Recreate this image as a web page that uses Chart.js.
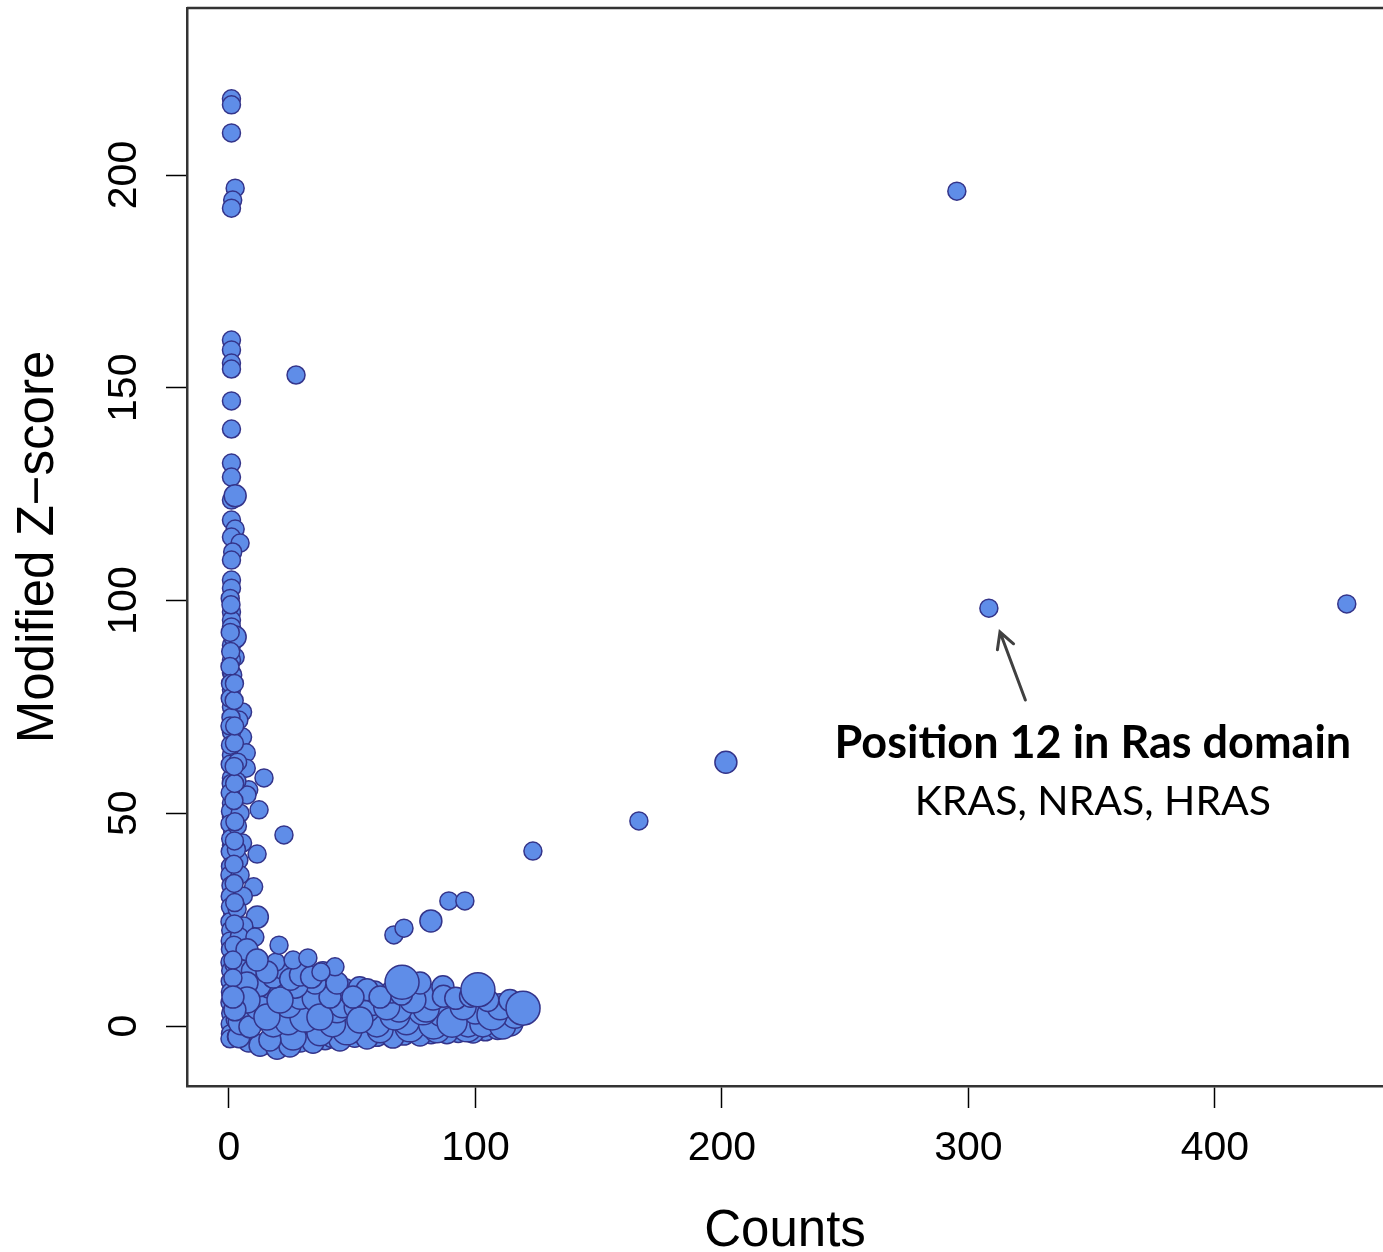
<!DOCTYPE html>
<html>
<head>
<meta charset="utf-8">
<script src="https://cdn.jsdelivr.net/npm/chart.js@4.4.1/dist/chart.umd.min.js"></script>
<style>
  html, body { margin: 0; padding: 0; background: #fff; }
</style>
</head>
<body>
<canvas id="zscoreChart" width="1383" height="1252"></canvas>
<script>
// values: counts (x), modified z-score (y), bubble size class (1 = smallest)
const counts = [
  1, 1, 1, 2.5, 1.5, 1,
  1, 1, 1, 1, 1, 1, 1, 1, 1, 2.5,
  1, 2.5, 1, 4.5, 1.5, 1, 1, 1,
  1, 1, 1, 1, 2.5, 2.5, 1, 1,
  1.5, 1, 1, 5.5, 4, 5.5, 1, 1, 7, 7,
  8, 1, 7.3, 1, 1, 1.5, 1, 4, 2, 1.5,
  10, 1.5, 2, 1.5, 11.5,
  0.5, 0.8, 0.5, 0.7, 0.4, 0.6, 0.5, 0.8, 0.4, 0.6,
  0.5, 0.9, 0.5, 0.6, 0.4, 0.7, 0.5, 0.6, 0.4, 0.8,
  0.5, 0.6, 0.4, 0.7, 0.5, 0.6, 0.4, 0.7, 0.5, 0.6,
  0.4, 0.7, 0.5, 0.6, 0.4, 3.5, 3.2, 4.5, 3.4, 5.5,
  3, 4.5, 5.8, 3.3, 6, 4.2, 3.1, 5, 3.6, 2.5,
  3, 2, 2, 2.2, 2.3, 2.1, 2, 2.2, 2.4, 2,
  2.3, 2.1, 2.2, 2.3, 2.1, 2.2,
  8, 22, 29, 39, 42, 51, 60, 71, 82, 93,
  104, 109, 12.6, 19.5, 24.7, 34.1, 45, 56, 66.5, 77.5,
  88.4, 99,
  47.9, 61.3, 73.4, 84.4, 96.6, 114, 36.9, 26, 16.6, 4,
  5, 18, 24, 42, 60, 72, 83, 97, 103, 111,
  86, 100, 116, 30.8, 43.8, 55.2, 67.3, 78.7, 90.5, 106.7,
  8.5, 12, 24, 29, 35, 46, 52, 58, 69, 80,
  64, 82.8, 95, 110, 74.6, 77.5, 86.8, 36.9, 15.4, 53.1,
  47, 53, 66, 70, 59, 87, 92, 105, 98, 114,
  38.1, 41, 34.9, 43.8, 56, 50.3, 61.3, 26.8, 16.6, 20.7,
  4.5, 9.5, 12.5, 18, 22, 25, 29, 19, 26, 33.5,
  10.5, 15.4, 7.3, 7.3, 11.4, 7.3, 2.4, 1.6, 1.6, 1.6,
  70.2, 101, 119.3,
  14.2, 12.2, 11.4, 22.3, 27.2, 20.3, 32.0, 43.0, 37.3, 66.9,
  71.0, 81.9, 89.2, 95.7, 123.3, 166.3, 201.6, 295.3, 308.3, 453.5
];
const zscores = [
  217.9, 216.5, 209.9, 196.9, 194.1, 192.2,
  161.2, 158.9, 155.8, 154.4, 146.9, 140.3, 132.3, 129.0, 123.6, 124.6,
  118.9, 116.8, 114.9, 113.5, 111.4, 109.5, 104.8, 102.9,
  97.3, 95.4, 93.8, 89.5, 91.4, 86.7, 83.0, 86.0,
  82.5, 79.0, 75.0, 73.8, 71.9, 67.9, 69.1, 63.7, 64.2, 60.6,
  55.5, 58.3, 54.3, 52.4, 49.1, 45.6, 42.5, 39.0, 36.7, 34.3,
  32.7, 31.5, 29.6, 26.6, 25.6,
  100.5, 99, 92.5, 88, 84.5, 80.5, 77, 72.5, 70.5, 66,
  61.5, 57, 54.8, 50.5, 47.5, 44, 41, 37.5, 35.5, 33,
  30.5, 28, 24.5, 22.5, 20, 18, 15, 13, 10.5, 8,
  5.5, 3, 0.5, -1.8, -3, 62, 57.5, 50, 47, 43,
  41.5, 35.5, 30.5, 27.5, 23.5, 21, 17, 12.5, 7.5, 1.5,
  -2.5, 14.5, 19, 24, 29, 33.5, 38, 43.5, 48, 53,
  57, 61, 66.5, 70.5, 76.5, 80.5,
  -3.5, -3.8, -3.5, -3, -2.5, -2.4, -2.2, -1.9, -1.6, -1.3,
  -0.9, -0.6, -4.5, -5.2, -4.7, -3.8, -3.3, -2.8, -2.6, -2.1,
  -1.6, -1.4,
  -0.9, -0.9, -0.2, -0.9, -0.2, 0.7, -1.6, -2.6, -3.3, -2.5,
  1, 0.5, 1, 0.5, 0.5, 1, 0.5, 0.5, 0.5, 0,
  3, 3.5, 2.5, 2.1, 3.8, 4.2, 2.6, 3.8, 0.9, 2.6,
  -0.2, 4.5, 5, 7, 6.5, 5, 4.5, 5.5, 4, 4,
  4.5, 6.8, 4.5, 4.5, 6.1, 10.1, 9.2, 2.1, 2.1, 1.4,
  8.5, 9, 8, 7.5, 8, 7, 6.5, 6, 7, 6,
  12.5, 6.8, 10.1, 10.1, 8.5, 6.8, 6.8, 9.6, 9.6, 6.1,
  13.5, 13, 9.5, 11.5, 13.5, 11, 12, 15, 15.5, 11.5,
  20.9, 12.7, 10.1, 17.9, 15.5, 6.1, 3.8, 15.5, 11.3, 6.8,
  10.3, 8.5, 4.2,
  58.3, 50.8, 40.4, 44.9, 153.0, 19.0, 16.0, 13.9, 12.7, 21.4,
  23.0, 24.7, 29.4, 29.4, 41.1, 48.2, 62.0, 196.2, 98.2, 99.2
];
const sizeClass = [
  1, 1, 1, 1, 1, 1,
  1, 1, 1, 1, 1, 1, 1, 1, 1, 2,
  1, 1, 1, 1, 1, 1, 1, 1,
  1, 1, 1, 1, 2, 1, 1, 1,
  1, 1, 1, 1, 1, 1, 1, 1, 1, 1,
  1, 1, 1, 1, 1, 1, 1, 1, 1, 1,
  1, 1, 1, 1, 2,
  1, 1, 1, 1, 1, 1, 1, 1, 1, 1,
  1, 1, 1, 1, 1, 1, 1, 1, 1, 1,
  1, 1, 1, 1, 1, 1, 1, 1, 1, 1,
  1, 1, 1, 1, 1, 1, 1, 1, 1, 1,
  1, 1, 1, 1, 1, 1, 1, 1, 1, 1,
  1, 1, 1, 1, 1, 1, 1, 1, 1, 1,
  1, 1, 1, 1, 1, 1,
  2, 2, 2, 2, 2, 2, 2, 2, 2, 2,
  2, 2, 2, 2, 2, 2, 2, 2, 2, 2,
  2, 2,
  4, 3, 4, 3, 4, 3, 3, 3, 2, 2,
  3, 3, 3, 3, 3, 3, 4, 3, 3, 3,
  3, 3, 3, 4, 3, 4, 4, 4, 4, 4,
  2, 3, 3, 3, 3, 3, 3, 3, 3, 3,
  3, 3, 3, 3, 3, 2, 2, 3, 3, 3,
  2, 2, 2, 2, 2, 2, 2, 2, 2, 2,
  2, 2, 2, 2, 2, 2, 2, 3, 3, 3,
  2, 2, 2, 2, 2, 2, 2, 1, 1, 2,
  1, 2, 2, 2, 2, 3, 2, 1, 1, 2,
  5, 5, 5,
  1, 1, 1, 1, 1, 1, 1, 1, 1, 1,
  1, 2, 1, 1, 1, 1, 2, 1, 1, 1
];

const xTicks = [0, 100, 200, 300, 400];
const yTicks = [0, 50, 100, 150, 200];

const note = {
  title: 'Position 12 in Ras domain',
  sub: 'KRAS, NRAS, HRAS',
  textAt: [350.5, 63.0],
  subAt: [350.5, 49.6],
  arrowFrom: [323.1, 76.6],
  arrowTo: [312.8, 92.6]
};

const points = counts.map((c, i) => ({ x: c, y: zscores[i], r: 7 + sizeClass[i] * 2 }));

const annotate = {
  id: 'annotate',
  afterDatasetsDraw(chart) {
    const { ctx, chartArea, scales: { x, y } } = chart;
    ctx.save();
    // top edge of the box
    ctx.strokeStyle = '#333';
    ctx.lineWidth = 2.5;
    ctx.beginPath();
    ctx.moveTo(chartArea.left, chartArea.top);
    ctx.lineTo(chartArea.right, chartArea.top);
    ctx.stroke();

    // arrow
    const x0 = x.getPixelForValue(note.arrowFrom[0]), y0 = y.getPixelForValue(note.arrowFrom[1]);
    const x1 = x.getPixelForValue(note.arrowTo[0]), y1 = y.getPixelForValue(note.arrowTo[1]);
    const a = Math.atan2(y1 - y0, x1 - x0);
    ctx.strokeStyle = '#404040';
    ctx.lineWidth = 3;
    ctx.lineCap = 'round';
    ctx.beginPath();
    ctx.moveTo(x0, y0);
    ctx.lineTo(x1, y1);
    ctx.moveTo(x1 - 18 * Math.cos(a - 0.5), y1 - 18 * Math.sin(a - 0.5));
    ctx.lineTo(x1, y1);
    ctx.lineTo(x1 - 18 * Math.cos(a + 0.5), y1 - 18 * Math.sin(a + 0.5));
    ctx.stroke();

    // text
    ctx.fillStyle = '#000';
    ctx.textAlign = 'center';
    ctx.textBaseline = 'alphabetic';
    ctx.font = 'bold 45px Lato, "Open Sans", sans-serif';
    ctx.fillText(note.title, x.getPixelForValue(note.textAt[0]), y.getPixelForValue(note.textAt[1]));
    ctx.font = '41px Lato, "Open Sans", sans-serif';
    ctx.fillText(note.sub, x.getPixelForValue(note.subAt[0]), y.getPixelForValue(note.subAt[1]));
    ctx.restore();
  }
};

new Chart(document.getElementById('zscoreChart'), {
  type: 'bubble',
  data: {
    datasets: [{
      data: points,
      backgroundColor: 'rgb(95, 141, 232)',
      borderColor: 'rgb(52, 52, 138)',
      borderWidth: 1.5
    }]
  },
  options: {
    responsive: false,
    animation: false,
    events: [],
    layout: { autoPadding: false, padding: { top: 8, left: 0, right: 0, bottom: 0 } },
    plugins: { legend: { display: false }, tooltip: { enabled: false } },
    scales: {
      x: {
        type: 'linear',
        position: 'bottom',
        min: -17.04,
        max: 468.2,
        afterBuildTicks: s => { s.ticks = xTicks.map(v => ({ value: v })); },
        afterFit: s => { s.height = 166; s.paddingLeft = 0; s.paddingRight = 0; },
        grid: { drawOnChartArea: false, drawTicks: true, tickLength: 22, tickColor: '#000', tickWidth: 1.5 },
        border: { display: true, color: '#333', width: 2.5 },
        ticks: {
          color: '#000',
          padding: 16,
          maxRotation: 0,
          font: { family: '"Liberation Sans", Arial, sans-serif', size: 41 }
        },
        title: {
          display: true,
          text: 'Counts',
          color: '#000',
          padding: { top: 0, bottom: -5 },
          font: { family: '"Liberation Sans", Arial, sans-serif', size: 51, lineHeight: 1 }
        }
      },
      y: {
        type: 'linear',
        position: 'left',
        min: -14.1,
        max: 239.25,
        afterBuildTicks: s => { s.ticks = yTicks.map(v => ({ value: v })); },
        afterFit: s => { s.width = 187; s.paddingTop = 0; s.paddingBottom = 0; },
        grid: { drawOnChartArea: false, drawTicks: true, tickLength: 21, tickColor: '#000', tickWidth: 1.5 },
        border: { display: true, color: '#333', width: 2.5 },
        ticks: {
          color: '#000',
          padding: 7,
          minRotation: 90,
          maxRotation: 90,
          crossAlign: 'center',
          font: { family: '"Liberation Sans", Arial, sans-serif', size: 41 }
        },
        title: {
          display: true,
          text: 'Modified Z\u2212score',
          color: '#000',
          padding: { top: 8, bottom: 0 },
          font: { family: '"Liberation Sans", Arial, sans-serif', size: 51, lineHeight: 1.2 }
        }
      }
    }
  },
  plugins: [annotate]
});
</script>
</body>
</html>
